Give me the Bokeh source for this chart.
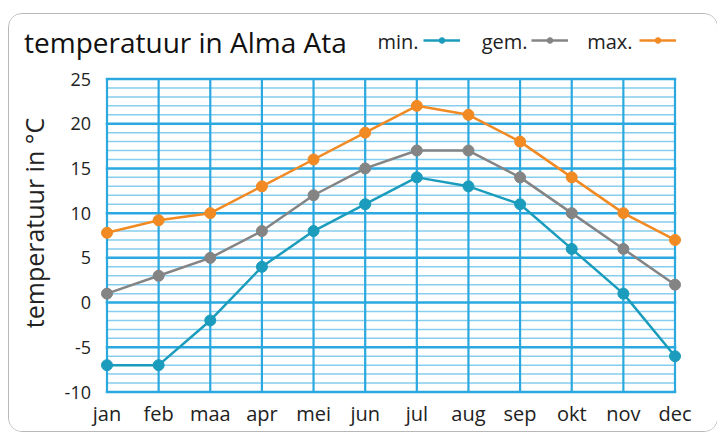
import math
from bokeh.plotting import figure
from bokeh.models import FixedTicker, Label, Legend, LegendItem, Range1d
from bokeh.embed import file_html
from bokeh.resources import INLINE

months = ["jan", "feb", "maa", "apr", "mei", "jun", "jul", "aug", "sep", "okt", "nov", "dec"]
t_min = [-7, -7, -2, 4, 8, 11, 14, 13, 11, 6, 1, -6]
t_gem = [1, 3, 5, 8, 12, 15, 17, 17, 14, 10, 6, 2]
t_max = [7.8, 9.2, 10, 13, 16, 19, 22, 21, 18, 14, 10, 7]
y_ticks = [-10, -5, 0, 5, 10, 15, 20, 25]
y_minor = [v for v in range(-10, 26) if v not in y_ticks]
series_names = ["min.", "gem.", "max."]
series_colors = ["#1b9cbc", "#848484", "#f28a24"]
title_text = "temperatuur in Alma Ata"
y_label = "temperatuur in °C"

x = list(range(len(months)))
n = len(months)
FONT = "Open Sans"
GRID = "#2aa8df"
GRID_MINOR = "#86cdee"

# layout geometry (pixels); the frame fills the whole canvas
W, H = 708, 417
GRID_W = 568.0           # width of the jan..dec grid
GRID_H = 313.0           # height of the -10..25 grid
LEFT_PX = 97.5           # room left of jan (title, y labels)
RIGHT_PX = W - LEFT_PX - GRID_W
TOP_PX = 64.5            # room above the grid (title, legend)
BOTTOM_PX = H - TOP_PX - GRID_H
PX_X = GRID_W / (x[-1] - x[0])
PX_Y = GRID_H / (y_ticks[-1] - y_ticks[0])

p = figure(frame_width=W, frame_height=H,
           min_border_left=0, min_border_right=0, min_border_top=0, min_border_bottom=0,
           x_range=Range1d(x[0] - LEFT_PX / PX_X, x[-1] + RIGHT_PX / PX_X),
           y_range=Range1d(y_ticks[0] - BOTTOM_PX / PX_Y, y_ticks[-1] + TOP_PX / PX_Y),
           output_backend="svg", toolbar_location=None)
p.styles = {"border": "1.5px solid #b8b8b8", "border-radius": "14px",
            "margin-left": "8px", "margin-top": "13px", "overflow": "hidden"}
p.outline_line_color = None
p.background_fill_color = "white"
p.border_fill_color = "white"
p.grid.visible = False

# axes, fixed at the edges of the grid
p.xaxis.ticker = FixedTicker(ticks=x)
p.xaxis.major_label_overrides = {i: m for i, m in enumerate(months)}
p.xaxis.fixed_location = y_ticks[0]
p.yaxis.ticker = FixedTicker(ticks=y_ticks)
p.yaxis.major_label_overrides = {t: str(t) for t in y_ticks}
p.yaxis.fixed_location = x[0]
for ax in (p.xaxis[0], p.yaxis[0]):
    ax.axis_line_color = None
    ax.major_tick_line_color = None
    ax.minor_tick_line_color = None
    ax.major_label_text_font = FONT
    ax.major_label_text_color = "#222222"
p.xaxis.major_label_text_font_size = "20px"
p.yaxis.major_label_text_font_size = "18px"
p.xaxis.major_label_standoff = 2
p.yaxis.major_label_standoff = 10

# grid lines drawn from the tick lists
nm = len(y_minor)
nt = len(y_ticks)
p.segment(x0=[x[0]] * nm, y0=y_minor, x1=[x[-1]] * nm, y1=y_minor,
          line_color=GRID_MINOR, line_width=1.5)
p.segment(x0=[x[0]] * nt, y0=y_ticks, x1=[x[-1]] * nt, y1=y_ticks,
          line_color=GRID, line_width=2.5, line_cap="square")
p.segment(x0=x, y0=[y_ticks[0]] * n, x1=x, y1=[y_ticks[-1]] * n,
          line_color=GRID, line_width=2.2)

items = []
for name, vals, col in zip(series_names, [t_min, t_gem, t_max], series_colors):
    r1 = p.line(x, vals, line_color=col, line_width=2.5)
    r2 = p.scatter(x, vals, size=11, fill_color=col, line_color=col)
    items.append(LegendItem(label=" ", renderers=[r1, r2]))

legend = Legend(items=items, orientation="horizontal", location=(414, 384.5),
                glyph_width=37, glyph_height=14, label_width=71, label_height=14,
                label_standoff=0, spacing=0, padding=0, margin=0,
                label_text_font_size="10px",
                border_line_color=None, background_fill_alpha=0)
p.add_layout(legend)

for name, lx in zip(series_names, [409, 518, 623]):
    p.add_layout(Label(x=lx, y=390.5, x_units="screen", y_units="screen", text=name,
                       text_align="right", text_baseline="middle", text_font=FONT,
                       text_font_size="20px", text_color="#222222"))

p.add_layout(Label(x=14.5, y=389.5, x_units="screen", y_units="screen",
                   text=title_text, text_align="left", text_baseline="alphabetic",
                   text_font=FONT, text_font_size="28px", text_color="#111111"))

p.add_layout(Label(x=24.5, y=208.5, x_units="screen", y_units="screen", angle=math.pi / 2,
                   text=y_label, text_align="center", text_baseline="middle",
                   text_font=FONT, text_font_size="25px", text_color="#222222"))

open("out.html", "w").write(file_html(p, INLINE))
